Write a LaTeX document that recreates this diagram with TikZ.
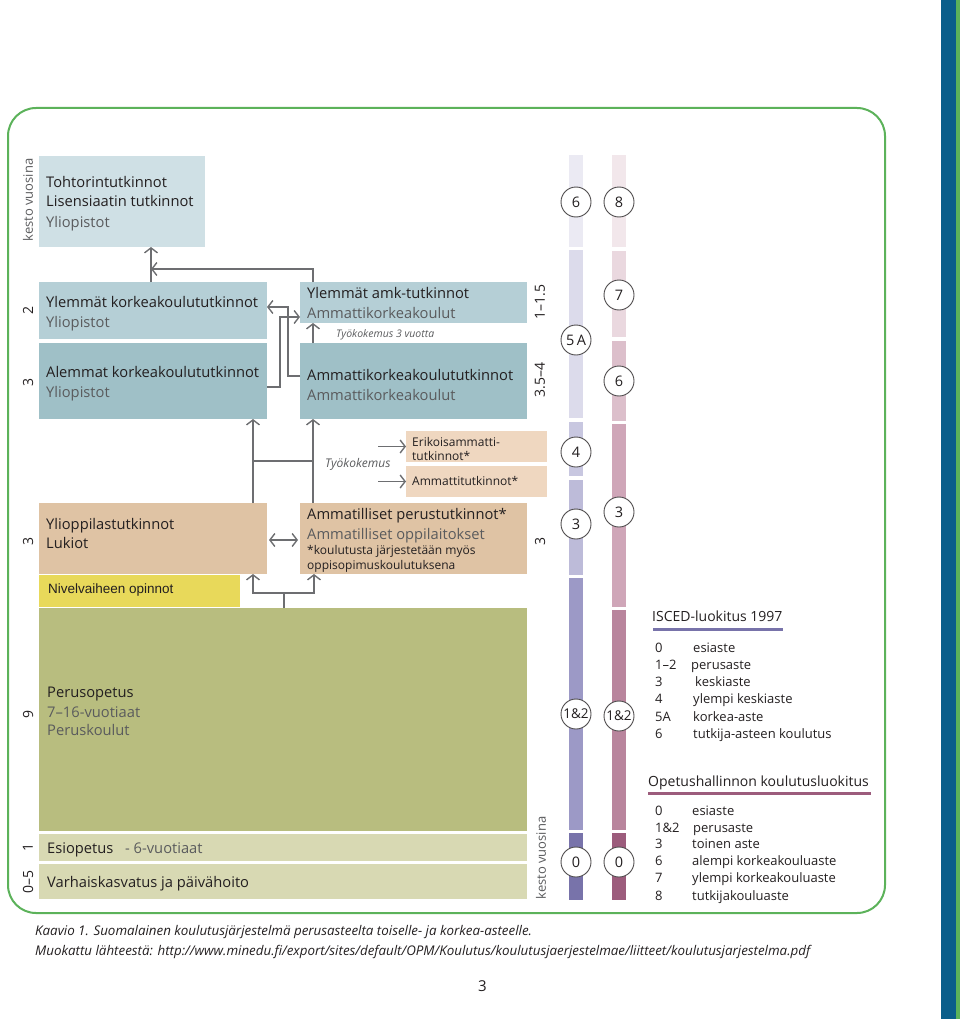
\documentclass[tikz,border=0pt]{standalone}
\usepackage{fontspec}
\setmainfont{Open Sans}
\newfontfamily\arialf{Liberation Sans}
\usetikzlibrary{arrows.meta,calc}
\definecolor{cToht}{HTML}{CFE0E5}
\definecolor{cYlk}{HTML}{B5CFD6}
\definecolor{cAlk}{HTML}{9FC0C7}
\definecolor{cTan}{HTML}{DFC3A4}
\definecolor{cPeach}{HTML}{EFD7C0}
\definecolor{cNivel}{HTML}{E8D95A}
\definecolor{cPerus}{HTML}{B8BD7F}
\definecolor{cEsi}{HTML}{D8D9B3}
\definecolor{cFrame}{HTML}{5CB25A}
\definecolor{cStripe}{HTML}{0A5E8A}
\definecolor{cDark}{HTML}{231F20}
\definecolor{cGrey}{HTML}{5A5B5D}
\definecolor{cLine}{HTML}{6D6E71}
\definecolor{iA}{HTML}{EBEAF3}
\definecolor{iB}{HTML}{DCDBEB}
\definecolor{iC}{HTML}{C8C7E0}
\definecolor{iD}{HTML}{BDBBD9}
\definecolor{iE}{HTML}{9C99C6}
\definecolor{iF}{HTML}{7873AA}
\definecolor{pA}{HTML}{F2E7EB}
\definecolor{pB}{HTML}{EAD8DF}
\definecolor{pC}{HTML}{DCBFCB}
\definecolor{pD}{HTML}{CFA6B8}
\definecolor{pE}{HTML}{B9859D}
\definecolor{pF}{HTML}{9C5C7C}
\begin{document}
\begin{tikzpicture}[x=1pt,y=-1pt,
  box/.style={draw=none, inner sep=0pt, anchor=north west, outer sep=0pt},
  t/.style={anchor=base west, inner sep=0pt, text=cDark, font=\fontsize{14.7}{17}\selectfont},
  tg/.style={t, text=cGrey},
  ts/.style={t, font=\fontsize{12}{14}\selectfont},
  rot/.style={rotate=90, inner sep=0pt, text=cDark, font=\fontsize{14}{16}\selectfont},
  leg/.style={anchor=base west, inner sep=0pt, text=cDark, font=\fontsize{13}{15}\selectfont},
  circ/.style={circle, draw=cDark!80, fill=white, line width=0.9pt, minimum size=30pt, inner sep=0pt, text=cDark, font=\fontsize{14.5}{16}\selectfont},
  ln/.style={draw=cLine, line width=1.4pt},
  arr/.style={ln, -{Straight Barb[length=5pt,width=13pt]}},
  arrb/.style={ln, {Straight Barb[length=5pt,width=13pt]}-{Straight Barb[length=5pt,width=13pt]}}]
\useasboundingbox (0,0) rectangle (960,1019);
% stripe and frame
\fill[cStripe] (941,0) rectangle (956,1019);
\fill[cFrame] (956,0) rectangle (960,1019);
\draw[cFrame, line width=2pt, rounded corners=28pt] (8,108) rectangle (885,913);

% boxes
\node[box, fill=cToht, minimum width=166pt, minimum height=91pt] (toht) at (39,156) {};
\node[box, fill=cYlk, minimum width=228pt, minimum height=57pt] (ylk) at (39,282) {};
\node[box, fill=cAlk, minimum width=228pt, minimum height=76pt] (alk) at (39,343) {};
\node[box, fill=cYlk, minimum width=227pt, minimum height=41pt] (amkY) at (300,282) {};
\node[box, fill=cAlk, minimum width=227pt, minimum height=76pt] (amk) at (300,343) {};
\node[box, fill=cPeach, minimum width=141pt, minimum height=31pt] (erik) at (406,431) {};
\node[box, fill=cPeach, minimum width=141pt, minimum height=31pt] (ammt) at (406,466) {};
\node[box, fill=cTan, minimum width=228pt, minimum height=71pt] (ylio) at (39,503) {};
\node[box, fill=cTan, minimum width=227pt, minimum height=71pt] (ammp) at (300,503) {};
\node[box, fill=cNivel, minimum width=201pt, minimum height=32pt] (nivel) at (39,575) {};
\node[box, fill=cPerus, minimum width=488pt, minimum height=223pt] (perus) at (39,608) {};
\node[box, fill=cEsi, minimum width=488pt, minimum height=27pt] (esi) at (39,834) {};
\node[box, fill=cEsi, minimum width=488pt, minimum height=35pt] (varh) at (39,864) {};
\draw[white, line width=1pt, dash pattern=on 3pt off 2pt] (nivel.south west) -- ++(149,0);

% box texts
\node[t] at (46,188) {Tohtorintutkinnot};
\node[t] at (46,207) {Lisensiaatin tutkinnot};
\node[tg] at (46,227) {Yliopistot};
\node[t] at (46,307) {Ylemmät korkeakoulututkinnot};
\node[tg] at (46,327) {Yliopistot};
\node[t] at (46,377) {Alemmat korkeakoulututkinnot};
\node[tg] at (46,397) {Yliopistot};
\node[t] at (307,298) {Ylemmät amk-tutkinnot};
\node[tg] at (307,318) {Ammattikorkeakoulut};
\node[tg, font=\itshape\fontsize{10.5}{12}\selectfont] at (336,337) {Työkokemus 3 vuotta};
\node[t] at (307,380) {Ammattikorkeakoulututkinnot};
\node[tg] at (307,400) {Ammattikorkeakoulut};
\node[ts] at (412,446) {Erikoisammatti-};
\node[ts] at (412,460) {tutkinnot*};
\node[ts] at (412,485) {Ammattitutkinnot*};
\node[tg, font=\itshape\fontsize{12}{14}\selectfont] at (325,467) {Työkokemus};
\node[t] at (46,529) {Ylioppilastutkinnot};
\node[t] at (46,548) {Lukiot};
\node[t] at (307,519) {Ammatilliset perustutkinnot*};
\node[tg] at (307,539) {Ammatilliset oppilaitokset};
\node[ts] at (307,554) {*koulutusta järjestetään myös};
\node[ts] at (307,569) {oppisopimuskoulutuksena};
\node[t, font=\arialf\fontsize{13.5}{15}\selectfont] at (48,593) {Nivelvaiheen opinnot};
\node[t] at (47,697) {Perusopetus};
\node[tg] at (47,717) {7–16-vuotiaat};
\node[tg] at (47,735) {Peruskoulut};
\node[t] at (47,853) {Esiopetus};
\node[tg] at (125,853) {- 6-vuotiaat};
\node[t] at (47,887) {Varhaiskasvatus ja päivähoito};

% rotated duration labels
\node[rot, text=cGrey, font=\fontsize{13}{15}\selectfont] at (28,200) {kesto vuosina};
\node[rot] at (28,310) {2};
\node[rot] at (28,382) {3};
\node[rot] at (28,541) {3};
\node[rot] at (28,714) {9};
\node[rot] at (28,847) {1};
\node[rot] at (28,882) {0–5};
\node[rot] at (540,302) {1–1.5};
\node[rot] at (540,380) {3.5–4};
\node[rot] at (540,541) {3};
\node[rot, text=cGrey, font=\fontsize{13}{15}\selectfont] at (541,858) {kesto vuosina};

% connectors
\coordinate (j1) at (151,269);
\coordinate (cb1) at (253,461);
\coordinate (cb2) at (313,461);
\coordinate (pb) at (284,593);
\coordinate (w1) at (378,446.5);
\coordinate (w2) at (378,481.5);
\draw[arr] ([xshift=112]ylk.north west) -- ([xshift=112]toht.south west);
\draw[arr] ([xshift=13]amkY.north west) |- (j1);
\draw[arr] ([yshift=-33]amk.north west) -- ++(-12,0) |- ([yshift=-25]ylk.north east);
\draw[arr] ([yshift=-44]alk.north east) -- ++(13,0) |- ([yshift=-35]amkY.north west);
\draw[arr] ([xshift=13]amk.north west) -- ([xshift=13]amkY.south west);
\draw[arr] ([xshift=214]ylio.north west) -- ([xshift=214]alk.south west);
\draw[arr] ([xshift=13]ammp.north west) -- ([xshift=13]amk.south west);
\draw[ln] (cb1) -- (cb2);
\draw[arr] (w1) -- (erik.west);
\draw[arr] (w2) -- (ammt.west);
\draw[arrb] ([yshift=-37]ylio.north east) ++(2,0) -- ([yshift=-37,xshift=-2]ammp.north west);
\draw[ln] ([xshift=245]perus.north west) -- (pb);
\draw[arr] (pb) -| ([xshift=214]ylio.south west);
\draw[arr] (pb) -| ([xshift=14]ammp.south west);

% ISCED bar
\fill[iA] (569,155) rectangle (583,247);
\fill[iB] (569,250) rectangle (583,418);
\fill[iC] (569,422) rectangle (583,476);
\fill[iD] (569,480) rectangle (583,575);
\fill[iE] (569,578) rectangle (583,830);
\fill[iF] (569,833) rectangle (583,900);
% Opetushallinto bar
\fill[pA] (612,155) rectangle (626,247);
\fill[pB] (612,251) rectangle (626,337);
\fill[pC] (612,341) rectangle (626,421);
\fill[pD] (612,424) rectangle (626,607);
\fill[pE] (612,610) rectangle (626,830);
\fill[pF] (612,833) rectangle (626,900);

\node[circ] (i6) at (576,202) {6};
\node[circ] (i5) at (576,340) {5\,A};
\node[circ] (i4) at (576,452) {4};
\node[circ] (i3) at (576,524) {3};
\node[circ, font=\fontsize{13.5}{15}\selectfont] (i12) at (576,714) {1\&2};
\node[circ] (i0) at (576,862) {0};
\node[circ] (o8) at (619,202) {8};
\node[circ] (o7) at (619,295) {7};
\node[circ] (o6) at (619,381) {6};
\node[circ] (o3) at (619,512) {3};
\node[circ, font=\fontsize{13.5}{15}\selectfont] (o12) at (619,716) {1\&2};
\node[circ] (o0) at (619,862) {0};

% legend 1
\node[leg, font=\fontsize{14}{16}\selectfont] (l1) at (652,621) {ISCED-luokitus 1997};
\draw[iF, line width=3pt] (653,629) -- (783,629);
\node[leg] at (655,652) {0};   \node[leg] at (693,652) {esiaste};
\node[leg] at (655,669) {1–2}; \node[leg] at (691,669) {perusaste};
\node[leg] at (655,686) {3};   \node[leg] at (695,686) {keskiaste};
\node[leg] at (655,703) {4};   \node[leg] at (693,703) {ylempi keskiaste};
\node[leg] at (655,721) {5A};  \node[leg] at (693,721) {korkea-aste};
\node[leg] at (655,738) {6};   \node[leg] at (693,738) {tutkija-asteen koulutus};
% legend 2
\node[leg, font=\fontsize{14}{16}\selectfont] (l2) at (648,786) {Opetushallinnon koulutusluokitus};
\draw[pF, line width=3pt] (648,793) -- (871,793);
\node[leg] at (655,815) {0};   \node[leg] at (692,815) {esiaste};
\node[leg] at (655,832) {1\&2};\node[leg] at (693,832) {perusaste};
\node[leg] at (655,848) {3};   \node[leg] at (692,848) {toinen aste};
\node[leg] at (655,865) {6};   \node[leg] at (692,865) {alempi korkeakouluaste};
\node[leg] at (655,882) {7};   \node[leg] at (692,882) {ylempi korkeakouluaste};
\node[leg] at (655,900) {8};   \node[leg] at (692,900) {tutkijakouluaste};

% caption
\node[t, font=\itshape\fontsize{13.35}{15}\selectfont] at (35,935) {Kaavio 1. Suomalainen koulutusjärjestelmä perusasteelta toiselle- ja korkea-asteelle.};
\node[t, font=\itshape\fontsize{13.35}{15}\selectfont] at (35,955) {Muokattu lähteestä: http://www.minedu.fi/export/sites/default/OPM/Koulutus/koulutusjaerjestelmae/liitteet/koulutusjarjestelma.pdf};
\node[t, font=\fontsize{15}{17}\selectfont] at (478,991) {3};
\end{tikzpicture}
\end{document}
